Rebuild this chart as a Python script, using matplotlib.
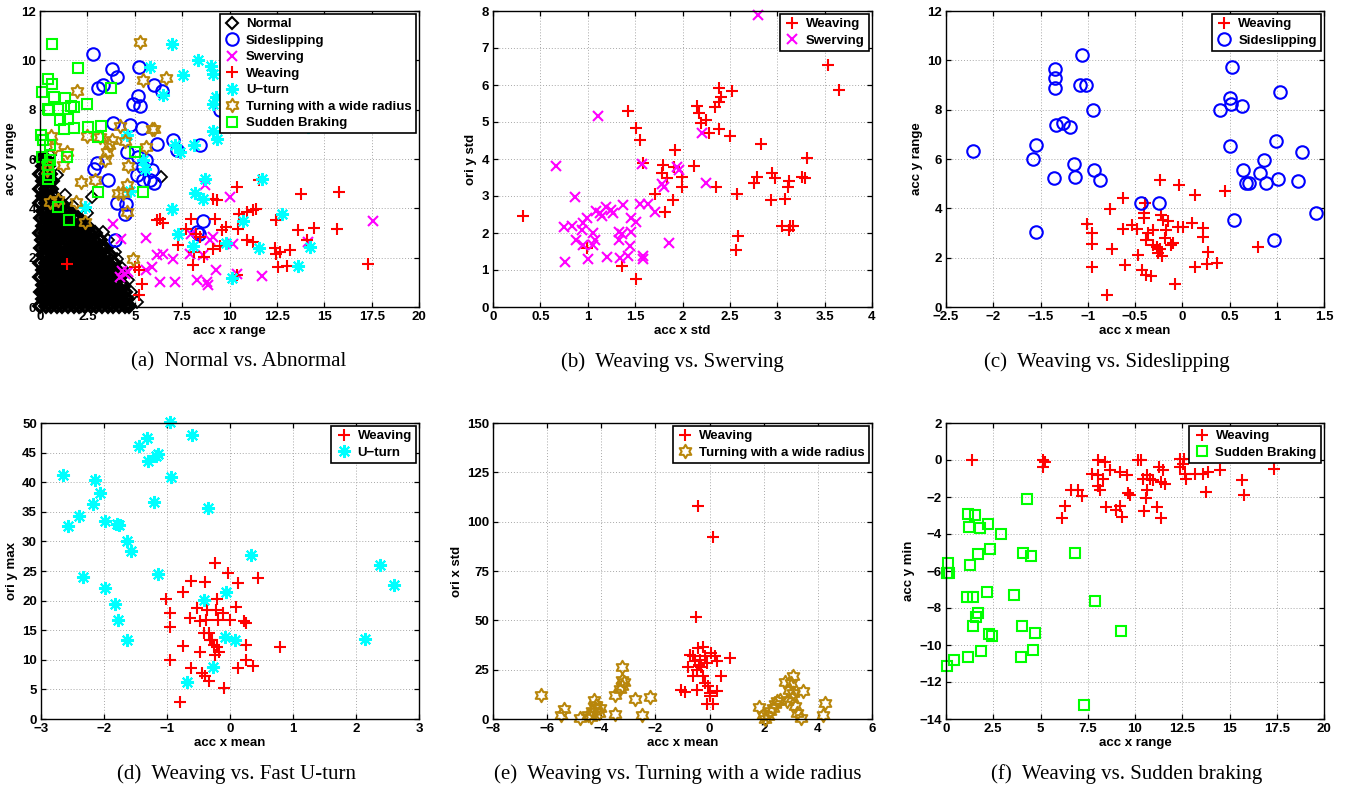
import numpy as np
import matplotlib.pyplot as plt
from matplotlib.lines import Line2D
from matplotlib.path import Path

plt.rcParams['font.family'] = ['Liberation Sans', 'DejaVu Sans']
plt.rcParams['axes.unicode_minus'] = True

# ---------------- data ----------------
# (a) Normal vs. Abnormal : acc x range / acc y range
# the normal cloud is very dense, stored row by row (y, [x ...])
normal_rows = [
    (0.05, [0.02, 0.31, 0.58, 0.9, 1.18, 1.47, 1.79, 2.08, 2.37, 2.69, 2.98, 3.27, 3.58, 3.86, 4.17, 4.46, 4.72]),
    (0.32, [0.14, 0.44, 0.76, 1.03, 1.33, 1.64, 1.93, 2.24, 2.52, 2.83, 3.14, 3.42, 3.73, 4.03, 4.31, 4.58]),
    (0.61, [0.03, 0.29, 0.61, 0.88, 1.2, 1.49, 1.77, 2.1, 2.39, 2.67, 2.99, 3.29, 3.56, 3.88, 4.18, 4.49]),
    (0.9, [0.16, 0.43, 0.74, 1.06, 1.34, 1.62, 1.95, 2.22, 2.54, 2.81, 3.12, 3.44, 3.71, 4.02, 4.36]),
    (1.2, [0.01, 0.32, 0.59, 0.91, 1.19, 1.5, 1.8, 2.07, 2.38, 2.7, 2.97, 3.28, 3.59, 3.87, 4.22]),
    (1.49, [0.15, 0.46, 0.73, 1.04, 1.36, 1.63, 1.92, 2.25, 2.53, 2.84, 3.13, 3.41, 3.74, 4.06]),
    (1.8, [0.02, 0.3, 0.62, 0.89, 1.21, 1.48, 1.78, 2.09, 2.4, 2.68, 3.0, 3.3, 3.57, 3.92]),
    (2.1, [0.17, 0.44, 0.75, 1.05, 1.32, 1.65, 1.94, 2.21, 2.55, 2.82, 3.11, 3.43, 3.69]),
    (2.4, [0.04, 0.31, 0.6, 0.92, 1.2, 1.51, 1.79, 2.1, 2.37, 2.69, 2.98, 3.27, 3.45]),
    (2.7, [0.13, 0.45, 0.77, 1.02, 1.35, 1.64, 1.91, 2.24, 2.52, 2.86, 3.17]),
    (3.0, [0.0, 0.29, 0.63, 0.9, 1.18, 1.49, 1.81, 2.08, 2.39, 2.66, 2.91]),
    (3.3, [0.16, 0.47, 0.74, 1.06, 1.33, 1.62, 1.95, 2.23, 2.5]),
    (3.6, [0.03, 0.3, 0.6, 0.89, 1.22, 1.5, 1.78, 2.02]),
    (3.9, [0.14, 0.43, 0.76, 1.04, 1.31, 1.52]),
    (4.2, [0.02, 0.32, 0.61, 0.9, 1.12]),
    (4.5, [0.15, 0.44, 0.72]),
    (4.8, [0.01, 0.3, 0.6]),
    (5.1, [0.14, 0.43, 0.62]),
    (5.4, [0.02, 0.3, 0.52]),
    (5.7, [0.15, 0.44]),
    (6.0, [0.03, 0.31]),
]
normal_extra = [(0.55, 6.15), (0.9, 5.35), (1.3, 4.55), (1.75, 4.1), (2.72, 4.46), (2.5, 3.8),
                (3.3, 3.05), (3.6, 2.7), (3.95, 2.25), (4.05, 1.95), (4.35, 1.6), (4.62, 1.1),
                (4.82, 0.6), (5.13, 0.2), (6.41, 5.27)]
a_side = [(2.78, 10.27), (3.78, 9.64), (4.04, 9.32), (5.24, 9.73), (3.08, 8.89), (3.34, 8.99),
          (6.01, 9.01), (6.45, 8.76), (5.18, 8.54), (4.92, 8.22), (5.27, 8.14), (3.87, 7.46),
          (4.75, 7.36), (5.36, 7.26), (7.03, 6.76), (7.24, 6.35), (8.44, 6.55), (6.15, 6.59),
          (9.49, 8.00), (2.86, 5.61), (2.99, 5.84), (3.60, 5.14), (4.57, 6.28), (5.18, 6.08),
          (5.62, 5.95), (5.89, 5.54), (5.10, 5.34), (5.45, 5.14), (6.01, 5.03), (5.80, 5.14),
          (4.04, 4.22), (4.53, 4.19), (4.48, 3.78), (8.61, 3.49), (8.30, 3.04), (3.95, 2.70),
          (8.40, 2.97), (5.45, 5.68)]
a_swerve = [(17.57, 3.49), (3.87, 3.35), (4.25, 2.77), (5.62, 2.81), (6.15, 2.09), (6.50, 2.16),
            (7.03, 1.96), (5.89, 1.62), (5.62, 1.49), (6.33, 1.01), (7.12, 1.01), (8.26, 1.08),
            (8.79, 1.01), (8.88, 0.88), (9.31, 1.51), (4.22, 1.22), (4.48, 1.35), (4.66, 1.42),
            (4.31, 1.46), (10.02, 4.46), (8.70, 4.93), (8.96, 2.70), (7.91, 2.16), (8.61, 2.09),
            (9.14, 2.84), (10.37, 1.35), (11.69, 1.24), (10.16, 2.57), (14.15, 2.64), (7.99, 2.97)]
a_weave = [(1.41, 1.76), (5.01, 1.62), (5.24, 1.49), (5.36, 0.95), (5.24, 0.47), (6.15, 3.51),
           (6.50, 3.41), (6.33, 3.58), (7.29, 2.50), (7.70, 3.18), (7.99, 3.58), (8.12, 2.23),
           (8.05, 1.69), (8.22, 2.97), (8.44, 2.84), (8.68, 2.03), (9.14, 4.39), (9.35, 4.32),
           (9.23, 3.58), (9.14, 2.36), (9.63, 3.14), (9.84, 3.24), (9.49, 2.46), (10.37, 4.86),
           (10.51, 3.78), (10.90, 3.85), (11.25, 3.92), (11.42, 3.99), (10.90, 2.73), (11.25, 2.64),
           (11.56, 5.14), (10.46, 3.18), (10.41, 1.28), (12.39, 2.41), (12.65, 2.23), (12.48, 3.51),
           (12.57, 1.62), (13.01, 1.66), (13.18, 2.32), (13.76, 4.57), (13.62, 3.11), (14.46, 3.20),
           (15.78, 4.66), (15.69, 3.18), (17.31, 1.76), (14.10, 2.70), (12.44, 2.16)]
a_uturn = [(6.98, 10.68), (8.35, 10.00), (9.00, 9.76), (9.14, 9.43), (5.80, 9.73), (7.56, 9.39),
           (6.50, 8.58), (9.28, 8.51), (9.14, 8.24), (9.14, 7.12), (9.35, 6.82), (8.14, 6.55),
           (7.12, 6.55), (7.38, 6.28), (4.57, 6.96), (5.45, 5.95), (5.54, 5.61), (4.75, 4.70),
           (8.70, 5.18), (8.17, 4.62), (8.61, 4.39), (11.74, 5.20), (6.99, 3.99), (2.37, 4.05),
           (7.29, 2.97), (8.09, 2.46), (10.69, 3.49), (9.84, 2.61), (11.56, 2.41), (12.79, 3.78),
           (14.24, 2.43), (13.62, 1.66), (10.14, 1.19), (14.15, 7.30)]
a_turn = [(5.27, 10.74), (5.41, 9.22), (6.64, 9.30), (1.97, 8.76), (5.89, 7.23), (6.01, 7.23),
          (4.22, 7.32), (4.48, 6.73), (3.78, 6.76), (3.66, 6.55), (3.51, 6.28), (3.16, 6.89),
          (2.50, 6.92), (3.43, 5.97), (4.66, 5.72), (5.62, 6.49), (0.56, 6.92), (0.79, 6.49),
          (1.41, 6.28), (1.23, 5.74), (0.35, 5.74), (0.35, 5.54), (2.16, 5.07), (2.90, 5.14),
          (4.13, 4.62), (4.39, 4.62), (4.57, 4.93), (1.90, 4.26), (0.53, 4.26), (0.97, 4.32),
          (2.37, 3.45), (4.57, 3.85), (4.89, 1.96)]
a_brake = [(0.65, 10.68), (2.02, 9.70), (0.44, 9.26), (0.62, 9.05), (0.09, 8.72), (3.74, 8.89),
           (0.74, 8.51), (1.32, 8.47), (0.44, 8.04), (0.49, 7.97), (0.97, 8.04), (1.63, 8.14),
           (1.79, 8.11), (2.46, 8.24), (1.05, 7.57), (1.49, 7.64), (1.28, 7.23), (1.81, 7.26),
           (2.55, 7.30), (3.22, 7.32), (3.04, 6.89), (0.05, 6.96), (0.14, 6.78), (0.53, 6.58),
           (1.41, 6.08), (5.01, 6.28), (0.09, 6.08), (0.53, 5.97), (0.44, 5.74), (0.49, 5.34),
           (0.44, 5.20), (3.04, 4.66), (5.45, 4.66), (0.97, 4.05), (1.53, 3.54)]

# (b) Weaving vs. Swerving : acc x std / ori y std
b_weave = [(0.32, 2.47), (1.43, 5.29), (1.51, 4.83), (1.55, 4.51), (1.58, 3.90), (0.99, 1.59),
           (1.36, 1.12), (1.51, 0.76), (1.71, 3.05), (1.79, 3.84), (1.78, 3.61), (1.84, 3.48),
           (1.82, 2.57), (1.90, 2.89), (1.92, 4.24), (1.91, 3.79), (1.99, 3.52), (1.99, 3.23),
           (2.12, 3.82), (2.15, 5.43), (2.17, 5.23), (2.20, 4.96), (2.25, 5.05), (2.28, 4.69),
           (2.35, 3.25), (2.34, 5.41), (2.38, 5.93), (2.41, 5.68), (2.39, 5.55), (2.39, 4.81),
           (2.52, 5.84), (2.50, 4.63), (2.58, 3.05), (2.59, 1.91), (2.56, 1.53), (2.83, 4.40),
           (2.75, 3.34), (2.79, 3.52), (2.94, 3.61), (2.98, 3.48), (2.93, 2.89), (3.08, 2.92),
           (3.12, 3.41), (3.11, 3.25), (3.05, 2.18), (3.13, 2.18), (3.12, 2.09), (3.17, 2.19),
           (3.26, 3.52), (3.29, 3.48), (3.31, 4.03), (3.54, 6.53), (3.65, 5.86)]
b_swerve = [(2.80, 7.88), (1.11, 5.17), (0.66, 3.82), (0.87, 2.98), (0.75, 2.15), (0.83, 2.18),
            (0.95, 2.27), (0.94, 2.09), (0.99, 2.40), (0.88, 1.82), (0.95, 1.68), (0.76, 1.21),
            (1.00, 1.30), (1.06, 2.00), (1.08, 1.82), (1.06, 1.68), (1.09, 2.60), (1.13, 2.53),
            (1.19, 2.71), (1.15, 2.46), (1.25, 2.61), (1.27, 2.53), (1.20, 1.35), (1.33, 2.04),
            (1.36, 1.97), (1.33, 1.82), (1.37, 2.76), (1.34, 1.32), (1.43, 1.37), (1.46, 2.02),
            (1.46, 2.40), (1.51, 2.31), (1.45, 1.64), (1.55, 2.79), (1.58, 1.37), (1.58, 1.29),
            (1.64, 2.79), (1.71, 2.58), (1.78, 3.32), (1.80, 3.24), (1.57, 3.86), (1.86, 1.73),
            (1.94, 3.79), (1.96, 3.70), (2.21, 4.69), (2.25, 3.36)]

# (c) Weaving vs. Sideslipping : acc x mean / acc y range
c_weave = [(-0.24, 5.15), (-0.03, 4.95), (0.14, 4.54), (0.45, 4.71), (0.80, 2.45), (-0.63, 4.41),
           (-0.76, 3.96), (-1.01, 3.37), (-0.95, 2.99), (-0.96, 2.56), (-0.96, 1.62), (-0.80, 0.47),
           (-0.74, 2.35), (-0.63, 3.15), (-0.61, 1.69), (-0.53, 3.33), (-0.48, 3.15), (-0.47, 2.12),
           (-0.43, 1.51), (-0.38, 1.31), (-0.33, 1.27), (-0.41, 3.60), (-0.40, 3.80), (-0.39, 4.21),
           (-0.36, 2.99), (-0.38, 2.72), (-0.31, 2.52), (-0.31, 3.13), (-0.27, 2.45), (-0.24, 2.35),
           (-0.21, 2.05), (-0.26, 2.18), (-0.23, 3.73), (-0.20, 3.53), (-0.17, 3.13), (-0.15, 3.47),
           (-0.18, 2.79), (-0.12, 2.52), (-0.10, 2.59), (-0.08, 0.93), (-0.05, 3.24), (0.01, 3.26),
           (0.10, 3.40), (0.22, 3.20), (0.22, 2.83), (0.27, 2.25), (0.13, 1.64), (0.26, 1.75),
           (0.37, 1.78)]
c_side = [(-2.21, 6.34), (-1.55, 6.55), (-1.58, 5.99), (-1.55, 3.06), (-1.35, 9.63), (-1.35, 9.30),
          (-1.35, 8.86), (-1.34, 7.37), (-1.26, 7.44), (-1.19, 7.28), (-1.36, 5.22), (-1.15, 5.78),
          (-1.13, 5.28), (-1.06, 10.23), (-1.08, 9.02), (-1.02, 8.99), (-0.94, 7.98), (-0.93, 5.55),
          (-0.87, 5.15), (-0.44, 4.21), (-0.25, 4.21), (0.40, 7.98), (0.50, 8.49), (0.52, 8.22),
          (0.63, 8.14), (0.53, 9.71), (1.03, 8.72), (0.50, 6.54), (0.64, 5.55), (0.67, 5.04),
          (0.71, 5.02), (0.82, 5.45), (0.87, 5.96), (0.89, 5.02), (0.99, 6.73), (1.01, 5.19),
          (1.23, 5.12), (1.27, 6.27), (1.42, 3.80), (0.97, 2.70), (0.55, 3.51)]

# (d) Weaving vs. Fast U-turn : acc x mean / ori y max
d_weave = [(-0.79, 2.8), (-1.01, 20.3), (-0.95, 17.9), (-0.96, 15.6), (-0.96, 10.0), (-0.75, 21.5),
           (-0.74, 12.4), (-0.62, 23.3), (-0.40, 23.2), (-0.48, 11.4), (-0.62, 8.6), (-0.45, 7.8),
           (-0.40, 7.2), (-0.33, 6.5), (-0.24, 26.3), (-0.03, 24.7), (0.13, 22.9), (0.45, 23.8),
           (0.79, 12.1), (-0.09, 5.2), (0.10, 19.0), (0.23, 16.5), (0.26, 16.3), (0.26, 12.5),
           (0.26, 10.0), (0.37, 9.0), (0.13, 8.6), (-0.53, 18.7), (-0.37, 18.4), (-0.21, 20.2),
           (-0.22, 18.4), (-0.11, 17.9), (0.00, 16.7), (-0.63, 17.0), (-0.48, 16.5), (-0.38, 16.7),
           (-0.19, 16.7), (-0.42, 14.5), (-0.34, 14.5), (-0.29, 13.4), (-0.26, 12.5), (-0.21, 12.2),
           (-0.24, 10.8), (-0.17, 11.4), (-0.31, 13.4)]
d_uturn = [(-2.65, 41.3), (-2.57, 32.6), (-2.39, 34.3), (-2.33, 24.0), (-2.14, 40.4), (-2.07, 38.2),
           (-2.17, 36.3), (-1.99, 33.4), (-1.99, 22.2), (-1.83, 19.4), (-1.78, 16.7), (-1.80, 33.0),
           (-1.76, 32.8), (-1.64, 30.1), (-1.57, 28.4), (-1.64, 13.3), (-1.45, 46.1), (-1.32, 47.4),
           (-1.30, 43.6), (-1.17, 44.4), (-1.14, 44.8), (-1.20, 36.7), (-1.14, 24.5), (-0.96, 50.1),
           (-0.94, 40.8), (-0.60, 47.9), (-0.35, 35.7), (-0.69, 6.3), (-0.41, 20.1), (-0.27, 8.8),
           (-0.07, 21.4), (-0.08, 13.8), (0.08, 13.3), (0.34, 27.7), (2.15, 13.5), (2.38, 26.0),
           (2.60, 22.6)]

# (e) Weaving vs. Turning with a wide radius : acc x mean / ori x std
e_weave = [(-0.42, 107.9), (0.13, 92.0), (-0.51, 51.9), (0.77, 30.8), (0.44, 21.6), (-1.04, 14.5),
           (-0.91, 13.5), (-0.79, 26.6), (-0.61, 31.7), (-0.42, 35.9), (-0.24, 36.7), (-0.36, 30.0),
           (-0.17, 31.7), (-0.11, 28.3), (-0.30, 26.6), (-0.46, 24.6), (-0.61, 21.6), (-0.24, 21.6),
           (0.07, 33.4), (0.26, 29.2), (0.20, 31.7), (-0.45, 14.8), (-0.05, 16.5), (0.01, 13.1),
           (0.26, 14.0), (-0.11, 7.8), (0.13, 7.8), (0.01, 11.5), (-0.17, 18.2), (-0.73, 32.5),
           (-0.54, 29.2), (-0.38, 27.5)]
e_turn = [(-6.21, 12.3), (-5.47, 2.2), (-5.39, 5.1), (-4.80, 0.5), (-4.49, 2.2), (-4.36, 3.9),
          (-4.28, 9.8), (-4.24, 5.6), (-4.18, 7.2), (-4.08, 3.0), (-4.39, 1.0), (-4.06, 5.6),
          (-3.50, 12.3), (-3.48, 2.7), (-3.25, 26.6), (-3.22, 19.9), (-3.25, 16.9), (-3.17, 19.0),
          (-3.32, 15.2), (-2.74, 10.3), (-2.48, 2.2), (-2.21, 11.1), (1.83, 6.1), (1.98, 2.2),
          (2.04, 0.0), (2.23, 3.9), (2.35, 5.6), (2.41, 7.8), (2.17, 1.3), (2.50, 8.9),
          (2.60, 9.8), (2.85, 8.9), (2.78, 18.5), (3.09, 21.9), (2.99, 18.2), (2.93, 14.8),
          (3.09, 13.1), (3.03, 10.6), (3.15, 6.4), (3.24, 3.0), (3.38, 0.5), (3.44, 14.0),
          (4.26, 8.1), (4.18, 2.2)]

# (f) Weaving vs. Sudden braking : acc x range / acc y min
f_weave = [(1.36, 0.02), (5.11, -0.01), (5.23, -0.10), (5.15, -0.37), (6.15, -3.11), (6.29, -2.49),
           (6.64, -1.60), (6.99, -1.63), (7.22, -1.96), (7.70, -0.73), (8.02, 0.0), (8.05, -0.82),
           (8.14, -1.63), (8.05, -1.42), (8.40, -0.10), (8.32, -1.0), (8.46, -2.53), (8.67, -0.55),
           (9.02, -2.71), (9.20, -2.49), (9.32, -3.07), (9.20, -0.64), (9.59, -0.82), (9.64, -1.78),
           (9.73, -1.90), (10.17, -0.01), (10.34, -0.01), (10.43, -1.00), (10.47, -2.76), (10.61, -1.63),
           (10.57, -2.08), (10.61, -0.82), (10.78, -1.00), (10.96, -1.09), (11.14, -2.53), (11.28, -0.37),
           (11.40, -3.16), (11.35, -1.18), (11.49, -0.55), (11.58, -1.31), (12.37, 0.08), (12.55, -0.19),
           (12.37, -0.37), (12.63, -0.73), (12.72, -1.00), (13.16, -0.73), (13.60, -0.73), (13.86, -0.64),
           (14.48, -0.55), (13.74, -1.72), (15.68, -1.06), (15.75, -1.90), (17.34, -0.46), (12.60, 0.08)]
f_brake = [(4.26, -2.13), (1.18, -2.93), (1.53, -2.98), (1.23, -3.61), (1.80, -3.70), (2.24, -3.47),
           (2.89, -4.00), (2.33, -4.83), (1.67, -5.08), (1.27, -5.68), (0.12, -5.59), (0.07, -6.09),
           (0.18, -6.13), (4.05, -5.01), (4.49, -5.17), (6.82, -5.01), (1.13, -7.38), (1.44, -7.42),
           (2.15, -7.11), (3.59, -7.29), (1.67, -8.28), (1.59, -8.50), (1.41, -8.97), (2.27, -9.40),
           (2.45, -9.51), (4.00, -8.95), (4.70, -9.36), (7.88, -7.60), (9.25, -9.24), (1.15, -10.66),
           (1.85, -10.35), (3.95, -10.67), (4.62, -10.26), (0.07, -11.11), (0.42, -10.80), (7.30, -13.23)]

# ---------------- marker styles ----------------
def hexagram_path():
    ang = np.pi / 2 + np.arange(12) * np.pi / 6
    rad = np.where(np.arange(12) % 2 == 0, 1.0, 1 / np.sqrt(3))
    verts = np.column_stack([rad * np.cos(ang), rad * np.sin(ang)])
    verts = np.vstack([verts, verts[:1]])
    codes = [Path.MOVETO] + [Path.LINETO] * 11 + [Path.CLOSEPOLY]
    return Path(verts, codes)

HEX = hexagram_path()
STYLES = {
    'Normal': dict(marker='D', color='black', ms=6.2),
    'Sideslipping': dict(marker='o', color='#0000ff', ms=9.0),
    'Swerving': dict(marker='x', color='#ff00ff', ms=7.4),
    'Weaving': dict(marker='+', color='#ff0000', ms=9.2),
    'U\u2212turn': dict(marker=(8, 2, 0), color='#00ffff', ms=9.4),
    'Turning with a wide radius': dict(marker=HEX, color='#b8860b', ms=9.6),
    'Sudden Braking': dict(marker='s', color='#00ff00', ms=7.8),
}


def scatter(ax, pts, name, mew=1.5):
    st = STYLES[name]
    pts = np.asarray(pts, dtype=float)
    ax.plot(pts[:, 0], pts[:, 1], ls='none', marker=st['marker'], ms=st['ms'],
            mfc='none', mec=st['color'], mew=mew, clip_on=False, zorder=2)


def legend(ax, names):
    handles = [Line2D([], [], ls='none', marker=STYLES[n]['marker'], ms=STYLES[n]['ms'],
                      mfc='none', mec=STYLES[n]['color'], mew=1.5) for n in names]
    leg = ax.legend(handles, names, loc='upper right', fontsize=9.5, fancybox=False,
                    edgecolor='black', framealpha=1, borderaxespad=0.25, borderpad=0.3,
                    handlelength=1.3, handletextpad=0.4, labelspacing=0.32, numpoints=1)
    leg.get_frame().set_linewidth(1.2)
    for t in leg.get_texts():
        t.set_fontweight('bold')
    leg.set_zorder(10)


def fmt(v):
    s = f'{v:g}'
    return s.replace('-', '\u2212')


def style(ax, xlim, ylim, xticks, yticks, xlabel, ylabel):
    ax.set_xlim(*xlim)
    ax.set_ylim(*ylim)
    ax.set_xticks(xticks)
    ax.set_yticks(yticks)
    ax.set_xticklabels([fmt(v) for v in xticks], fontweight='bold')
    ax.set_yticklabels([fmt(v) for v in yticks], fontweight='bold')
    ax.grid(True, ls=(0, (1, 2)), color='#a8a8a8', lw=0.7)
    ax.tick_params(direction='in', top=True, right=True, length=3.5, width=0.9,
                   labelsize=9.5, pad=3)
    for sp in ax.spines.values():
        sp.set_linewidth(1.0)
    ax.set_xlabel(xlabel, fontsize=9.5, fontweight='bold', labelpad=1)
    ax.set_ylabel(ylabel, fontsize=9.5, fontweight='bold', labelpad=3)


W, H = 1351, 793
fig = plt.figure(figsize=(W / 100, H / 100), dpi=100)


def axes_px(left, top, right, bottom):
    return fig.add_axes([left / W, 1 - bottom / H, (right - left) / W, (bottom - top) / H])


# (a)
ax = axes_px(40, 11, 419, 307)
normal_core = [(x, y) for y, xs in normal_rows for x in xs]
scatter(ax, normal_core, 'Normal', mew=2.6)
scatter(ax, normal_extra, 'Normal', mew=1.3)
scatter(ax, a_side, 'Sideslipping')
scatter(ax, a_swerve, 'Swerving')
scatter(ax, a_weave, 'Weaving')
scatter(ax, a_uturn, 'U\u2212turn')
scatter(ax, a_turn, 'Turning with a wide radius')
scatter(ax, a_brake, 'Sudden Braking')
style(ax, (0, 20), (0, 12), np.arange(0, 20.1, 2.5), np.arange(0, 12.1, 2),
      'acc x range', 'acc y range')
legend(ax, ['Normal', 'Sideslipping', 'Swerving', 'Weaving', 'U\u2212turn',
            'Turning with a wide radius', 'Sudden Braking'])

# (b)
ax = axes_px(493, 11, 872, 307)
scatter(ax, b_weave, 'Weaving')
scatter(ax, b_swerve, 'Swerving')
style(ax, (0, 4), (0, 8), np.arange(0, 4.01, 0.5), np.arange(0, 8.1, 1),
      'acc x std', 'ori y std')
legend(ax, ['Weaving', 'Swerving'])

# (c)
ax = axes_px(946, 11, 1324, 307)
scatter(ax, c_weave, 'Weaving')
scatter(ax, c_side, 'Sideslipping')
style(ax, (-2.5, 1.5), (0, 12), np.arange(-2.5, 1.51, 0.5), np.arange(0, 12.1, 2),
      'acc x mean', 'acc y range')
legend(ax, ['Weaving', 'Sideslipping'])

# (d)
ax = axes_px(41, 423, 419, 719)
scatter(ax, d_weave, 'Weaving')
scatter(ax, d_uturn, 'U\u2212turn')
style(ax, (-3, 3), (0, 50), np.arange(-3, 3.1, 1), np.arange(0, 50.1, 5),
      'acc x mean', 'ori y max')
legend(ax, ['Weaving', 'U\u2212turn'])

# (e)
ax = axes_px(493, 423, 872, 719)
scatter(ax, e_weave, 'Weaving')
scatter(ax, e_turn, 'Turning with a wide radius')
style(ax, (-8, 6), (0, 150), np.arange(-8, 6.1, 2), np.arange(0, 150.1, 25),
      'acc x mean', 'ori x std')
legend(ax, ['Weaving', 'Turning with a wide radius'])

# (f)
ax = axes_px(946, 423, 1324, 719)
scatter(ax, f_weave, 'Weaving')
scatter(ax, f_brake, 'Sudden Braking')
style(ax, (0, 20), (-14, 2), np.arange(0, 20.1, 2.5), np.arange(-14, 2.1, 2),
      'acc x range', 'acc y min')
legend(ax, ['Weaving', 'Sudden Braking'])

# sub-figure captions
captions = [(239, 362, '(a)  Normal vs. Abnormal'),
            (672, 362, '(b)  Weaving vs. Swerving'),
            (1107, 362, '(c)  Weaving vs. Sideslipping'),
            (237, 774, '(d)  Weaving vs. Fast U-turn'),
            (678, 774, '(e)  Weaving vs. Turning with a wide radius'),
            (1127, 774, '(f)  Weaving vs. Sudden braking')]
for cx, cy, txt in captions:
    fig.text(cx / W, 1 - cy / H, txt, ha='center', va='center', fontsize=15,
             family=['Liberation Serif', 'DejaVu Serif'])

fig.savefig('out.png', dpi=100)
